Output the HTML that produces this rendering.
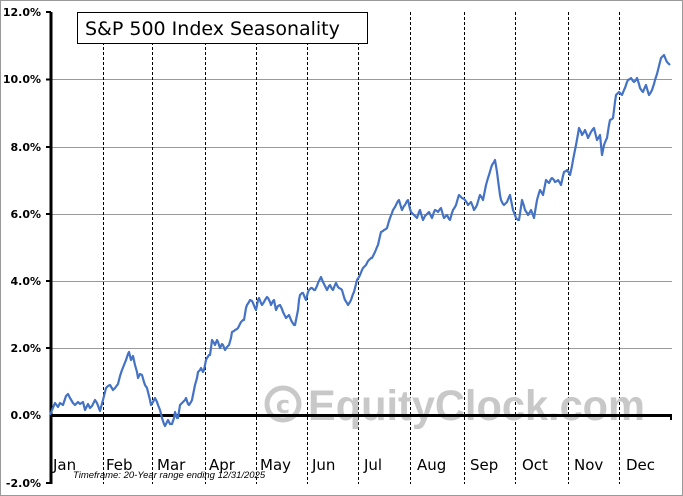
<!DOCTYPE html>
<html><head><style>
body{margin:0;background:#fff}
svg{display:block}
text{font-family:"DejaVu Sans","Liberation Sans",sans-serif}
</style></head><body>
<svg width="683" height="496" viewBox="0 0 683 496" xmlns="http://www.w3.org/2000/svg">
<rect x="0.5" y="0.5" width="682" height="495" fill="#fff" stroke="#999"/>
<g stroke="#999" stroke-width="1">
<line x1="51" y1="79.5" x2="672" y2="79.5"/>
<line x1="51" y1="147.5" x2="672" y2="147.5"/>
<line x1="51" y1="214.5" x2="672" y2="214.5"/>
<line x1="51" y1="281.5" x2="672" y2="281.5"/>
<line x1="51" y1="348.5" x2="672" y2="348.5"/>
</g>
<g stroke="#000" stroke-width="1" stroke-dasharray="3,2">
<line x1="103.5" y1="12" x2="103.5" y2="484"/>
<line x1="152.5" y1="12" x2="152.5" y2="484"/>
<line x1="205.5" y1="12" x2="205.5" y2="484"/>
<line x1="256.5" y1="12" x2="256.5" y2="484"/>
<line x1="307.5" y1="12" x2="307.5" y2="484"/>
<line x1="358.5" y1="12" x2="358.5" y2="484"/>
<line x1="410.5" y1="12" x2="410.5" y2="484"/>
<line x1="464.5" y1="12" x2="464.5" y2="484"/>
<line x1="515.5" y1="12" x2="515.5" y2="484"/>
<line x1="568.5" y1="12" x2="568.5" y2="484"/>
<line x1="619.5" y1="12" x2="619.5" y2="484"/>
</g>
<g fill="#c8c8c8">
<circle cx="283" cy="404" r="16" fill="none" stroke="#c8c8c8" stroke-width="5"/>
<text x="283" y="413" font-size="24" font-weight="bold" text-anchor="middle" fill="#c8c8c8">c</text>
<text x="308" y="420" font-size="43" font-weight="bold" fill="#c8c8c8" textLength="337" lengthAdjust="spacingAndGlyphs" style="font-family:'Liberation Sans',sans-serif">EquityClock.com</text>
</g>
<line x1="51" y1="12" x2="51" y2="484" stroke="#000" stroke-width="3"/>
<line x1="51" y1="415.5" x2="672" y2="415.5" stroke="#000" stroke-width="3"/>
<g stroke="#000" stroke-width="2">
<line x1="46" y1="12" x2="51" y2="12"/><line x1="46" y1="79.5" x2="51" y2="79.5"/>
<line x1="46" y1="147" x2="51" y2="147"/><line x1="46" y1="214" x2="51" y2="214"/>
<line x1="46" y1="281" x2="51" y2="281"/><line x1="46" y1="348" x2="51" y2="348"/>
<line x1="46" y1="483" x2="51" y2="483"/><line x1="671" y1="415" x2="671" y2="420"/>
</g>
<g font-size="11" font-weight="bold" text-anchor="end" style="font-family:'Liberation Sans',sans-serif">
<text x="41" y="16">12.0%</text><text x="41" y="83">10.0%</text>
<text x="41" y="151">8.0%</text><text x="41" y="218">6.0%</text>
<text x="41" y="285">4.0%</text><text x="41" y="352">2.0%</text>
<text x="41" y="419">0.0%</text><text x="41" y="487">-2.0%</text>
</g>
<g font-size="15">
<text x="53" y="470">Jan</text><text x="106" y="470">Feb</text><text x="157" y="470">Mar</text>
<text x="209" y="470">Apr</text><text x="260" y="470">May</text><text x="312" y="470">Jun</text>
<text x="364" y="470">Jul</text><text x="417" y="470">Aug</text><text x="470" y="470">Sep</text>
<text x="522" y="470">Oct</text><text x="574" y="470">Nov</text><text x="626" y="470">Dec</text>
</g>
<text x="73" y="478" font-size="9.5" font-style="italic" style="font-family:'Liberation Sans',sans-serif">Timeframe: 20-Year range ending 12/31/2025</text>
<rect x="77.5" y="12.5" width="290" height="31" fill="#fff" stroke="#000"/>
<text x="85" y="35" font-size="19">S&amp;P 500 Index Seasonality</text>
<polyline fill="none" stroke="#4472c4" stroke-width="2.2" stroke-linejoin="round" points="50,415 55,403 58,407 60,403 63,405 66,396 68,394 70,398 73,403 75,405 78,402 80,404 83,402 85,410 88,404 90,408 92,406 95,400 97,403 100,411 103,400 106,388 108,386 110,385 113,390 115,388 118,384 120,376 122,370 124,365 126,360 128,354 129,352 131,360 133,356 135,365 137,372 138,378 140,374 142,375 144,382 145,385 147,388 148,392 150,400 151,405 153,402 155,398 157,402 158,405 160,410 162,418 164,424 165,426 167,422 168,420 170,424 172,424 174,418 175,412 177,418 178,418 180,405 183,402 185,400 186,398 188,404 189,405 191,402 192,400 194,390 195,385 197,378 198,372 200,370 201,368 203,372 204,370 206,360 207,358 209,355 210,355 211,348 212,340 214,343 215,345 217,340 218,342 220,348 222,344 223,345 225,350 227,347 229,345 231,338 232,332 234,331 235,330 237,329 238,328 240,324 241,322 243,320 244,320 246,308 247,305 249,302 250,300 252,301 253,303 255,308 256,310 258,300 259,298 261,303 262,305 264,302 265,300 267,297 268,298 270,302 271,305 273,301 274,300 276,310 278,306 280,305 282,309 283,312 285,316 286,318 288,316 289,315 291,320 292,322 294,325 295,325 297,315 298,310 299,300 300,295 302,293 303,293 305,298 306,300 308,292 309,290 311,288 312,288 314,290 315,290 317,286 318,283 320,279 321,277 323,282 324,284 326,288 327,290 329,286 330,285 332,289 333,290 335,285 336,283 338,287 339,288 341,289 342,290 344,297 345,300 347,303 348,305 350,302 351,300 353,294 354,292 356,284 357,280 359,277 360,275 362,270 363,268 365,266 366,265 368,261 369,260 371,258 372,258 374,254 375,252 377,247 378,245 380,236 381,232 383,231 384,230 386,229 387,228 389,221 390,218 392,213 393,210 395,207 396,205 398,201 399,200 401,207 402,210 404,206 405,205 407,201 408,200 410,209 411,212 413,214 414,215 416,217 417,218 419,212 420,210 422,217 423,220 425,216 426,215 428,213 429,212 431,216 432,218 434,212 435,210 437,211 438,212 440,209 441,208 443,215 444,218 446,216 447,215 449,219 450,220 452,213 453,210 455,207 456,205 458,198 459,195 461,197 462,198 464,199 465,200 467,203 468,205 470,203 471,202 473,207 474,210 476,207 477,205 479,198 480,195 482,198 483,200 485,190 486,185 488,178 489,175 491,168 492,165 494,162 495,160 497,172 498,180 500,195 501,200 503,204 504,205 506,203 507,202 509,197 510,195 512,205 513,210 515,215 516,218 518,220 519,220 521,207 522,200 524,206 525,210 527,213 528,215 530,212 531,210 533,215 534,218 536,206 537,200 539,193 540,190 542,193 543,195 545,185 546,180 548,182 549,183 551,179 552,178 554,180 555,182 557,181 558,180 560,183 561,185 563,176 564,172 566,171 567,170 569,173 570,175 572,166 573,160 575,150 576,145 578,134 579,128 581,132 582,135 584,132 585,130 587,135 588,138 590,134 591,132 593,129 594,128 596,136 597,140 599,137 600,135 602,155 604,145 606,140 607,138 609,125 610,120 612,119 613,118 615,102 616,95 618,93 619,92 621,94 622,95 624,90 625,88 627,82 628,80 630,79 631,78 633,81 634,82 636,80 637,78 639,84 640,88 642,91 643,92 645,87 646,85 648,92 649,95 651,92 652,90 654,84 655,80 657,74 658,70 660,62 661,58 663,56 664,55 666,60 667,62 669,64 670,65"/>
</svg>
</body></html>
